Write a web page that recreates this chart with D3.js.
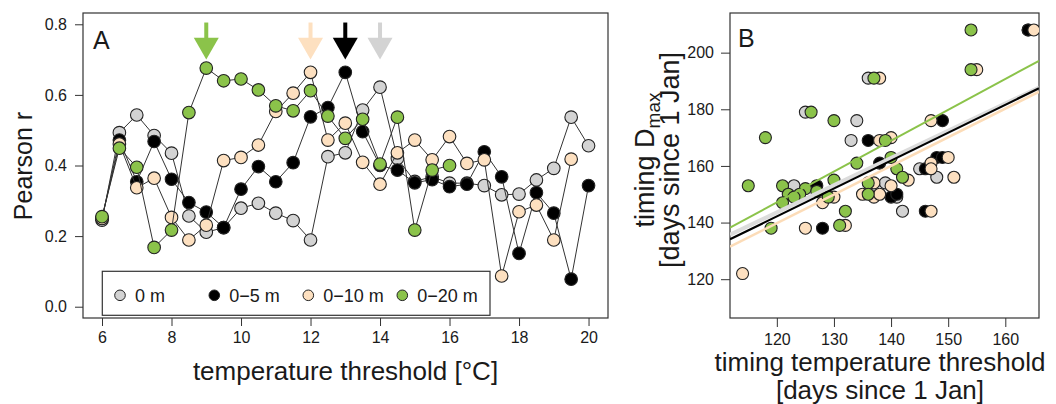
<!DOCTYPE html>
<html>
<head>
<meta charset="utf-8">
<script src="https://cdn.jsdelivr.net/npm/d3@7"></script>
<style>
  html, body { margin: 0; padding: 0; background: #fff; }
  svg { display: block; font-family: "Liberation Sans", Arial, Helvetica, sans-serif; }
</style>
</head>
<body>
<svg id="chart" width="1056" height="404"></svg>
<script>
// ---------- DATA ----------
const thresholds = [6,6.5,7,7.5,8,8.5,9,9.5,10,10.5,11,11.5,12,12.5,13,13.5,14,14.5,15,15.5,16,16.5,17,17.5,18,18.5,19,19.5,20];
const seriesNames = ["0 m", "0\u22125 m", "0\u221210 m", "0\u221220 m"];
const seriesColors = ["#d3d3d3", "#000000", "#fde0c0", "#8bc34a"];

const r0m  = [0.245,0.493,0.543,0.485,0.435,0.257,0.211,0.224,0.279,0.293,0.265,0.244,0.189,0.425,0.436,0.557,0.622,0.420,0.355,0.368,0.350,0.350,0.343,0.317,0.319,0.359,0.392,0.537,0.456];
const r5m  = [0.250,0.472,0.354,0.468,0.361,0.295,0.268,0.224,0.333,0.397,0.354,0.408,0.538,0.564,0.664,0.496,0.400,0.387,0.351,0.360,0.340,0.347,0.439,0.368,0.151,0.323,0.265,0.078,0.343];
const r10m = [0.250,0.461,0.337,0.364,0.253,0.189,0.231,0.414,0.423,0.458,0.553,0.605,0.664,0.472,0.520,0.409,0.347,0.436,0.472,0.416,0.482,0.406,0.416,0.087,0.269,0.288,0.189,0.418,null];
const r20m = [0.255,0.449,0.395,0.168,0.217,0.550,0.676,0.640,0.645,0.614,0.569,0.555,0.612,0.540,0.477,0.531,0.404,0.537,0.217,0.387,0.400,null,null,null,null,null,null,null,null];

// thresholds marked by arrows (max correlation per series)
const arrowThresholds = [14, 13, 12, 9];
const arrowSeries = [0, 1, 2, 3];

const yTicksA = [0, 0.2, 0.4, 0.6, 0.8];
const xTicksA = [6, 8, 10, 12, 14, 16, 18, 20];

// Panel B: [timing temperature threshold, timing Dmax]
const b0m = [[125,179],[136,191],[134,176],[133,169],[123,153],[139,154],[141,149],[142,144],[145,159],[148,156],[164,208]];
const b5m = [[136,169],[149,176],[164,208],[127,153],[128,138],[138,161],[140,149],[141,150],[146,159],[148,163],[149,163],[146,144]];
const b10m = [[114,122],[125,138],[132,139],[128,147],[130,149],[135,150],[137,149],[138,150],[137,154],[140,153],[143,155],[138,169],[140,170],[138,191],[147,176],[147,161],[147,159],[150,163],[151,156],[147,144],[155,194],[165,208]];
const b20m = [[118,170],[115,153],[119,138],[126,179],[130,176],[137,191],[139,169],[134,161],[121,153],[125,152],[122,150],[124,150],[123,149],[121,147],[127,151],[129,149],[130,155],[132,144],[131,139],[136,154],[136,150],[140,163],[141,159],[142,156],[154,208],[154,194]];

// fitted regression lines: [intercept, slope]
const fit0m  = [28.26, 0.961];
const fit5m  = [23.98, 0.985];
const fit10m = [18.47, 1.011];
const fit20m = [16.45, 1.089];

const yTicksB = [120, 140, 160, 180, 200];
const xTicksB = [120, 130, 140, 150, 160];

// ---------- DRAW ----------
const svg = d3.select("#chart");
svg.append("rect").attr("width", 1056).attr("height", 404).attr("fill", "#fff");

const AX = "#333", TXT = "#1a1a1a";

// ===== Panel A =====
const xA = d3.scaleLinear().domain([5.453, 20.56]).range([83, 608]);
const yA = d3.scaleLinear().domain([-0.032, 0.832]).range([318, 13]);

const gA = svg.append("g");

const axLA = gA.append("g").attr("transform", "translate(83,0)")
  .call(d3.axisLeft(yA).tickValues(yTicksA).tickFormat(d3.format(".1f")).tickSize(8).tickPadding(8));
const axBA = gA.append("g").attr("transform", "translate(0,318)")
  .call(d3.axisBottom(xA).tickValues(xTicksA).tickFormat(d3.format("d")).tickSize(8).tickPadding(6));
[axLA, axBA].forEach(a => {
  a.select(".domain").remove();
  a.selectAll("line").attr("stroke", AX).attr("stroke-width", 1);
  a.selectAll("text").attr("font-size", 16).attr("fill", TXT).attr("font-family", null);
});

gA.append("rect").attr("x", 83).attr("y", 13).attr("width", 608 - 83).attr("height", 318 - 13)
  .attr("fill", "none").attr("stroke", AX).attr("stroke-width", 1.2);

// arrows
const arrowTopV = 0.805, arrowTipV = 0.70, arrowBaseV = 0.762;
arrowThresholds.forEach((t, i) => {
  const cx = xA(t), col = seriesColors[arrowSeries[i]];
  gA.append("rect").attr("x", cx - 2).attr("y", yA(arrowTopV)).attr("width", 4)
    .attr("height", yA(arrowBaseV) - yA(arrowTopV) + 1).attr("fill", col);
  gA.append("path")
    .attr("d", `M${cx - 12.5},${yA(arrowBaseV)} L${cx + 12.5},${yA(arrowBaseV)} L${cx},${yA(arrowTipV)} Z`)
    .attr("fill", col);
});

const seriesA = [r0m, r5m, r10m, r20m];
const line = d3.line().defined(d => d[1] != null).x(d => xA(d[0])).y(d => yA(d[1]));
seriesA.forEach((vals, si) => {
  const pts = thresholds.map((t, i) => [t, vals[i]]);
  gA.append("path").datum(pts).attr("d", line)
    .attr("fill", "none").attr("stroke", "#333").attr("stroke-width", 1);
  gA.selectAll(null).data(pts.filter(d => d[1] != null)).enter().append("circle")
    .attr("cx", d => xA(d[0])).attr("cy", d => yA(d[1])).attr("r", 6.3)
    .attr("fill", seriesColors[si]).attr("stroke", "#222").attr("stroke-width", 1.1);
});

gA.append("text").attr("x", 93).attr("y", 49).attr("font-size", 25).attr("fill", TXT).text("A");

// legend
gA.append("rect").attr("x", 102.3).attr("y", 271.3).attr("width", 490 - 102.3).attr("height", 44)
  .attr("fill", "#fff").attr("stroke", AX).attr("stroke-width", 1.2);
const legCx = [120, 214.3, 308.3, 402.3];
seriesNames.forEach((nm, i) => {
  gA.append("circle").attr("cx", legCx[i]).attr("cy", 295.3).attr("r", 5.3)
    .attr("fill", seriesColors[i]).attr("stroke", "#222").attr("stroke-width", 1);
  gA.append("text").attr("x", legCx[i] + 15).attr("y", 301.8).attr("font-size", 18)
    .attr("fill", TXT).text(nm);
});

gA.append("text").attr("transform", "translate(32,166) rotate(-90)").attr("text-anchor", "middle")
  .attr("font-size", 25).attr("fill", TXT).text("Pearson r");
gA.append("text").attr("x", 345.5).attr("y", 380).attr("text-anchor", "middle")
  .attr("font-size", 26).attr("fill", TXT).text("temperature threshold [\u00B0C]");

// ===== Panel B =====
const xB = d3.scaleLinear().domain([111.8, 165.9]).range([730, 1039]);
const yB = d3.scaleLinear().domain([106.3, 214]).range([318, 13]);
const gB = svg.append("g");

const axLB = gB.append("g").attr("transform", "translate(730,0)")
  .call(d3.axisLeft(yB).tickValues(yTicksB).tickFormat(d3.format("d")).tickSize(9).tickPadding(7));
const axBB = gB.append("g").attr("transform", "translate(0,318)")
  .call(d3.axisBottom(xB).tickValues(xTicksB).tickFormat(d3.format("d")).tickSize(9).tickPadding(7));
[axLB, axBB].forEach(a => {
  a.select(".domain").remove();
  a.selectAll("line").attr("stroke", AX).attr("stroke-width", 1);
  a.selectAll("text").attr("font-size", 16).attr("fill", TXT).attr("font-family", null);
});
gB.append("rect").attr("x", 730).attr("y", 13).attr("width", 1039 - 730).attr("height", 318 - 13)
  .attr("fill", "none").attr("stroke", AX).attr("stroke-width", 1.2);

const clip = svg.append("clipPath").attr("id", "clipB").append("rect")
  .attr("x", 730).attr("y", 13).attr("width", 309).attr("height", 305);

const seriesB = [b0m, b5m, b10m, b20m];
const plotB = gB.append("g").attr("clip-path", "url(#clipB)");
seriesB.forEach((pts, si) => {
  plotB.selectAll(null).data(pts).enter().append("circle")
    .attr("cx", d => xB(d[0])).attr("cy", d => yB(d[1])).attr("r", 6)
    .attr("fill", seriesColors[si]).attr("stroke", "#222").attr("stroke-width", 1.1);
});
const fits = [fit0m, fit10m, fit5m, fit20m];
const fitCols = ["#dcdcdc", "#fcdcb8", "#000000", "#8bc34a"];
const fitW = [4, 2.5, 2.2, 2];
const xr = xB.domain();
fits.forEach((f, i) => {
  plotB.append("line")
    .attr("x1", xB(xr[0])).attr("y1", yB(f[0] + f[1] * xr[0]))
    .attr("x2", xB(xr[1])).attr("y2", yB(f[0] + f[1] * xr[1]))
    .attr("stroke", fitCols[i]).attr("stroke-width", fitW[i]);
});

gB.append("text").attr("x", 738).attr("y", 47).attr("font-size", 25).attr("fill", TXT).text("B");

const yt = gB.append("text").attr("transform", "translate(654,160) rotate(-90)").attr("text-anchor", "middle")
  .attr("font-size", 27).attr("fill", TXT);
yt.append("tspan").text("timing D");
yt.append("tspan").attr("font-size", 19).attr("dy", 6).text("max");
gB.append("text").attr("transform", "translate(679,160) rotate(-90)").attr("text-anchor", "middle")
  .attr("font-size", 27).attr("fill", TXT).text("[days since 1 Jan]");

gB.append("text").attr("x", 880).attr("y", 371).attr("text-anchor", "middle")
  .attr("font-size", 26).attr("fill", TXT).text("timing temperature threshold");
gB.append("text").attr("x", 880).attr("y", 399).attr("text-anchor", "middle")
  .attr("font-size", 26).attr("fill", TXT).text("[days since 1 Jan]");
</script>
</body>
</html>
